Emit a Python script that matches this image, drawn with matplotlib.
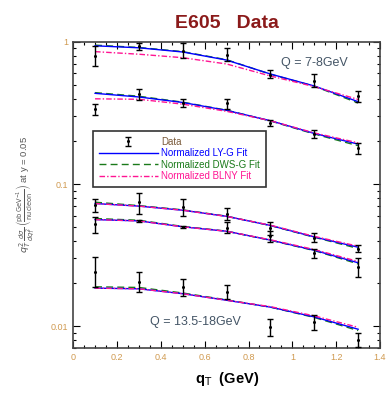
import matplotlib
matplotlib.use("Agg")
import matplotlib.pyplot as plt
from matplotlib.ticker import MultipleLocator, LogLocator, NullFormatter, FixedLocator, FixedFormatter

# q_T bin centres (GeV)
qt = [0.1, 0.3, 0.5, 0.7, 0.9, 1.1, 1.3]

# data points (value, lower, upper) per mass bin
data_c = [
    [0.80, 0.935, 0.86, 0.81, 0.59, 0.535, 0.415],
    [0.335, 0.43, 0.372, 0.37, 0.268, 0.225, 0.178],
    [0.071, 0.075, 0.069, 0.062, 0.049, 0.042, 0.035],
    [0.052, 0.055, 0.050, 0.049, 0.043, 0.0325, 0.026],
    [0.024, 0.0205, 0.0188, 0.0175, 0.0099, 0.0106, 0.0080],
]
data_lo = [
    [0.68, 0.88, 0.77, 0.73, 0.555, 0.48, 0.38],
    [0.306, 0.39, 0.35, 0.34, 0.255, 0.21, 0.164],
    [0.064, 0.062, 0.060, 0.056, 0.0435, 0.039, 0.033],
    [0.045, 0.054, 0.049, 0.045, 0.039, 0.030, 0.022],
    [0.0188, 0.0173, 0.0163, 0.0156, 0.0085, 0.0094, 0.0071],
]
data_hi = [
    [0.94, 0.99, 0.98, 0.90, 0.63, 0.595, 0.45],
    [0.365, 0.47, 0.397, 0.40, 0.282, 0.24, 0.193],
    [0.079, 0.086, 0.078, 0.068, 0.054, 0.045, 0.037],
    [0.059, 0.056, 0.051, 0.054, 0.0465, 0.035, 0.030],
    [0.0305, 0.0239, 0.0213, 0.0194, 0.0113, 0.0119, 0.0089],
]

# fit curves
ly_fit = [
    [0.94, 0.91, 0.85, 0.746, 0.595, 0.49, 0.38],
    [0.435, 0.41, 0.375, 0.33, 0.279, 0.227, 0.191],
    [0.0729, 0.0699, 0.0654, 0.0592, 0.0511, 0.0424, 0.0359],
    [0.0562, 0.055, 0.050, 0.0465, 0.0403, 0.0342, 0.0279],
    [0.0185, 0.0183, 0.0169, 0.0152, 0.0136, 0.0116, 0.0095],
]
dws_fit = [
    [0.95, 0.915, 0.855, 0.75, 0.593, 0.488, 0.372],
    [0.44, 0.415, 0.377, 0.331, 0.278, 0.225, 0.186],
    [0.0745, 0.0705, 0.0658, 0.0594, 0.0510, 0.0422, 0.0352],
    [0.0572, 0.0556, 0.0503, 0.0466, 0.0402, 0.0340, 0.0274],
    [0.0189, 0.0187, 0.0171, 0.0153, 0.0136, 0.0115, 0.0093],
]
blny_fit = [
    [0.855, 0.82, 0.775, 0.70, 0.576, 0.485, 0.394],
    [0.398, 0.395, 0.365, 0.325, 0.279, 0.229, 0.195],
    [0.0729, 0.0699, 0.0654, 0.0592, 0.0513, 0.0428, 0.0365],
    [0.0562, 0.055, 0.050, 0.0465, 0.0405, 0.0346, 0.0285],
    [0.0185, 0.0183, 0.0169, 0.0152, 0.0137, 0.0118, 0.0098],
]

TICK_COLOR = "#d09a50"
plt.rcParams["font.family"] = ["Liberation Sans", "DejaVu Sans"]
plt.rcParams["mathtext.fontset"] = "dejavusans"

fig = plt.figure(figsize=(3.89, 3.96), dpi=100)
ax = fig.add_axes([0.188, 0.121, 0.789, 0.773])

for i in range(len(data_c)):
    lab = i == 0
    yerr = [[c - lo for c, lo in zip(data_c[i], data_lo[i])],
            [hi - c for c, hi in zip(data_c[i], data_hi[i])]]
    ax.plot(qt, ly_fit[i], color="blue", lw=1.0,
            label="Normalized LY-G Fit" if lab else None, zorder=3)
    ax.plot(qt, dws_fit[i], color="#1a7a1a", lw=1.0, ls=(0, (5, 3)),
            label="Normalized DWS-G Fit" if lab else None, zorder=2)
    ax.plot(qt, blny_fit[i], color="#ff1493", lw=1.0, ls=(0, (4, 1.5, 1, 1.5)),
            label="Normalized BLNY Fit" if lab else None, zorder=4)
    ax.errorbar(qt, data_c[i], yerr=yerr, fmt="o", ms=1.2, color="black",
                ecolor="black", elinewidth=1.0, capsize=2, capthick=1.0,
                label="Data" if lab else None, zorder=5)

ax.set_yscale("log")
ax.set_xlim(0, 1.4)
ax.set_ylim(0.007, 1.0)

ax.xaxis.set_minor_locator(MultipleLocator(0.05))
ax.yaxis.set_major_locator(FixedLocator([0.01, 0.1, 1]))
ax.yaxis.set_major_formatter(FixedFormatter(["0.01", "0.1", "1"]))
ax.yaxis.set_minor_locator(LogLocator(base=10, subs=range(2, 10)))
ax.yaxis.set_minor_formatter(NullFormatter())
ax.set_xticks([0, 0.2, 0.4, 0.6, 0.8, 1, 1.2, 1.4])
ax.set_xticklabels(["0", "0.2", "0.4", "0.6", "0.8", "1", "1.2", "1.4"])

ax.tick_params(which="both", direction="in", top=True, right=True,
               labelsize=6.5, labelcolor=TICK_COLOR, width=0.8)
ax.tick_params(which="major", length=5)
ax.tick_params(which="minor", length=2.5)
for sp in ax.spines.values():
    sp.set_linewidth(1.2)
    sp.set_color("#444444")

ax.set_title("E605   Data", fontsize=14, fontweight="bold", color="#8b1a1a", pad=10)
ax.set_xlabel(r"q$_{\rm T}$  (GeV)", fontsize=10.5, fontweight="bold", labelpad=6)
ax.set_ylabel(r"$q_T^2\,\frac{d\sigma}{dq_T^2}\,\left(\frac{\mathrm{pb\,GeV^{-1}}}{\mathrm{nucleon}}\right)$ at y = 0.05",
              fontsize=6.8, color="#555555", labelpad=10)

ax.text(0.95, 0.68, "Q = 7-8GeV", fontsize=9, color="#445566")
ax.text(0.35, 0.0101, "Q = 13.5-18GeV", fontsize=9, color="#445566")

handles, labels = ax.get_legend_handles_labels()
order = [labels.index(n) for n in ["Data", "Normalized LY-G Fit",
                                   "Normalized DWS-G Fit", "Normalized BLNY Fit"]]
leg = ax.legend([handles[k] for k in order], [labels[k] for k in order],
                loc="upper left", bbox_to_anchor=(0.05, 0.725), fontsize=7,
                frameon=True, fancybox=False, edgecolor="black",
                handlelength=6, borderpad=0.6, labelspacing=0.15,
                handletextpad=0.4)
leg.get_frame().set_linewidth(1.2)
for txt, col in zip(leg.get_texts(), ["#7a5a3a", "blue", "#1a7a1a", "#ff1493"]):
    txt.set_color(col)

fig.savefig("out.png", dpi=100)
